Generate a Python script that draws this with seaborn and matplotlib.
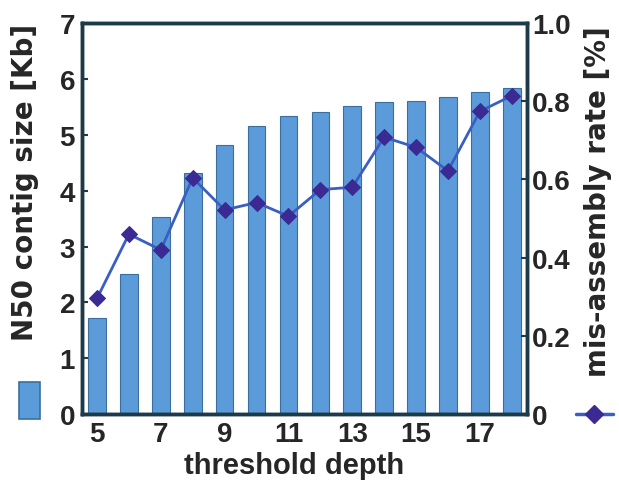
import matplotlib
matplotlib.use("Agg")
import matplotlib.pyplot as plt
import seaborn as sns
import pandas as pd
from matplotlib.patches import Rectangle
from matplotlib.lines import Line2D

depth = [5, 6, 7, 8, 9, 10, 11, 12, 13, 14, 15, 16, 17, 18]
n50_kb = [1.72, 2.50, 3.52, 4.31, 4.82, 5.16, 5.33, 5.41, 5.52, 5.58, 5.61, 5.68, 5.77, 5.83]
misassembly = [0.296, 0.46, 0.42, 0.604, 0.522, 0.541, 0.506, 0.574, 0.580, 0.708, 0.682, 0.622, 0.774, 0.814]
xtick_labels = [5, 7, 9, 11, 13, 15, 17]
left_ticks = [0, 1, 2, 3, 4, 5, 6, 7]
right_ticks = [0, 0.2, 0.4, 0.6, 0.8, 1.0]
right_labels = ["0", "0.2", "0.4", "0.6", "0.8", "1.0"]

df = pd.DataFrame({"depth": depth, "n50": n50_kb, "mis": misassembly})

sns.set_style("white")
plt.rcParams['font.family'] = ['Liberation Sans', 'DejaVu Sans']
plt.rcParams['font.weight'] = 'bold'

tick_font = ['Liberation Sans Narrow', 'Liberation Sans', 'DejaVu Sans']
label_font = ['DejaVu Sans']

bar_color = "#5c9bda"
bar_edge = "#3b6e9e"
line_color = "#3a5fc4"
marker_color = "#3b2a94"
spine_color = "#1d3a48"
tick_fs = 20

fig = plt.figure(figsize=(6.19, 4.89), dpi=100)
ax = fig.add_axes([0.1325, 0.151, 0.7185, 0.80])

sns.barplot(data=df, x="depth", y="n50", native_scale=True, width=0.55,
            color=bar_color, edgecolor=bar_edge, linewidth=0.8, saturation=1, ax=ax)
ax.set_xlim(4.53, 18.47)
ax.set_ylim(0, 7)
ax.set_yticks(left_ticks)
ax.set_yticklabels([str(t) for t in left_ticks], fontsize=tick_fs, fontweight='bold',
                   family=tick_font)
ax.tick_params(axis='y', direction='in', length=4, width=1.5, color=spine_color, pad=5)

# category-style ticks between bars, labels under odd depths
ax.set_xticks([d + 0.5 for d in depth[:-1]])
ax.set_xticklabels([])
ax.tick_params(axis='x', direction='in', length=5, width=1.5, color=spine_color)
ax.set_xticks(xtick_labels, minor=True)
ax.set_xticklabels([str(t) for t in xtick_labels], minor=True, fontsize=tick_fs,
                   fontweight='bold', family=tick_font)
ax.tick_params(axis='x', which='minor', length=0, pad=5)

ax.set_xlabel("threshold depth", fontsize=21, fontweight='bold',
              family=['Liberation Sans', 'DejaVu Sans'])
ax.xaxis.set_label_coords(0.477, -0.095)
ax.set_ylabel("N50 contig size [Kb]", fontsize=20, fontweight='bold',
              family=label_font)
ax.yaxis.set_label_coords(-0.097, 0.596)

ax2 = ax.twinx()
sns.lineplot(data=df, x="depth", y="mis", ax=ax2, color=line_color, linewidth=2,
             marker="D", markersize=8, markerfacecolor=marker_color,
             markeredgecolor=marker_color)
ax2.set_ylim(0, 1.0)
ax2.set_yticks(right_ticks)
ax2.set_yticklabels(right_labels, fontsize=tick_fs, fontweight='bold', family=tick_font)
ax2.tick_params(axis='y', direction='in', length=4, width=1.5, color=spine_color, pad=4)
ax2.set_ylabel("mis-assembly rate [%]", fontsize=20, fontweight='bold',
               family=label_font)
ax2.yaxis.set_label_coords(1.128, 0.545)
ax2.set_xlim(4.53, 18.47)

for a in (ax, ax2):
    for s in a.spines.values():
        s.set_color(spine_color)
        s.set_linewidth(2.5)
        s.set_visible(True)

# legend glyphs beside the axis titles
fig.patches.append(Rectangle((0.030, 0.141), 0.034, 0.075, transform=fig.transFigure,
                             facecolor=bar_color, edgecolor=bar_edge, linewidth=1.2))
fig.lines.append(Line2D([0.93, 0.96, 0.99], [0.151, 0.151, 0.151], transform=fig.transFigure,
                        color=line_color, linewidth=2.5, marker="D", markersize=9,
                        markevery=[1], markerfacecolor=marker_color, markeredgecolor=marker_color))

fig.savefig("out.png", dpi=100)
